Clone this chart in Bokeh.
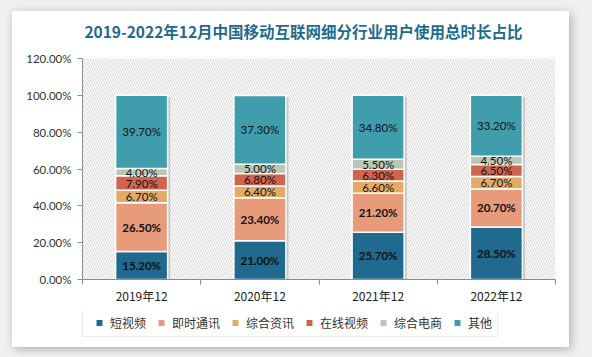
import numpy as np
from bokeh.plotting import figure
from bokeh.models import (ColumnDataSource, FixedTicker, PrintfTickFormatter, BoxAnnotation,
                          Legend, LegendItem, Range1d, Label)
from bokeh.layouts import column
from bokeh.core.properties import value
from bokeh.embed import file_html
from bokeh.resources import INLINE

# ---- data ----
title_text = "2019-2022年12月中国移动互联网细分行业用户使用总时长占比"
categories = ["2019年12", "2020年12", "2021年12", "2022年12"]
series_names = ["短视频", "即时通讯", "综合资讯", "在线视频", "综合电商", "其他"]
short_video = [15.2, 21.0, 25.7, 28.5]
instant_msg = [26.5, 23.4, 21.2, 20.7]
news = [6.7, 6.4, 6.6, 6.7]
online_video = [7.9, 6.8, 6.3, 6.5]
ecommerce = [4.0, 5.0, 5.5, 4.5]
others = [39.7, 37.3, 34.8, 33.2]
y_ticks = [0, 20, 40, 60, 80, 100, 120]

series = [short_video, instant_msg, news, online_video, ecommerce, others]
colors = ["#1F6A8E", "#E89B7B", "#E4AB68", "#D0644F", "#BAC7B5", "#3F9DAC"]
bold = [True, True, False, False, False, False]

x_pos = [i + 0.5 for i in range(len(categories))]
bar_w = 0.44
W = 557
BL, BR = 70, 14          # left / right borders shared by all stacked figures
FW = W - BL - BR         # frame width


def strip(h):
    f = figure(width=W, height=h, x_range=Range1d(0, FW), y_range=Range1d(0, h),
               output_backend="svg", toolbar_location=None,
               x_axis_location=None, y_axis_location=None,
               min_border_left=BL, min_border_right=BR, min_border_top=0, min_border_bottom=0,
               background_fill_color="white", border_fill_color="white")
    f.grid.visible = False
    f.outline_line_color = None
    return f


# title strip
tf = strip(36)
tf.add_layout(Label(x=221, y=17, text=title_text, text_align="center", text_baseline="middle",
                    text_font="Noto Sans CJK SC", text_font_size="15.5px",
                    text_font_style="bold", text_color="#1F6A8E"))

# main chart
p = figure(width=W, height=264, x_range=Range1d(0, len(categories)), y_range=Range1d(0, 120),
           output_backend="svg", toolbar_location=None,
           min_border_left=BL, min_border_right=BR, min_border_top=11, min_border_bottom=32,
           background_fill_color="white", border_fill_color="white")
p.outline_line_color = None
p.grid.visible = False

# hatched plot background
p.add_layout(BoxAnnotation(level="underlay", fill_alpha=0, line_alpha=0,
                           hatch_pattern="\\", hatch_color="#C9C9C9", hatch_weight=0.8,
                           hatch_scale=5, hatch_alpha=1.0))

# bar shadows
totals = np.sum(np.array(series), axis=0)
shadow_src = ColumnDataSource(dict(x=[x + 0.022 for x in x_pos], top=list(totals - 0.9)))
p.vbar(x="x", top="top", bottom=0, width=bar_w, source=shadow_src,
       fill_color="#7F7F7F", fill_alpha=0.35, line_color=None)

# legend strip
lf = strip(36)

bottom = np.zeros(len(categories))
legend_items = []
for name, vals, col, b in zip(series_names, series, colors, bold):
    vals = np.array(vals, dtype=float)
    top = bottom + vals
    src = ColumnDataSource(dict(x=x_pos, bottom=list(bottom), top=list(top),
                                mid=list((bottom + top) / 2),
                                lab=["%.2f%%" % v for v in vals]))
    p.vbar(x="x", bottom="bottom", top="top", width=bar_w, source=src,
           fill_color=col, line_color="white", line_width=1.5)
    p.text(x="x", y="mid", text="lab", source=src, text_align="center", text_baseline="middle",
           text_font=value("Lato"), text_font_size="11.5px",
           text_font_style="bold" if b else "normal", text_color="#111111")
    dummy = lf.scatter(x=[-100], y=[-100], marker="square", size=6, fill_color=col, line_color=None)
    legend_items.append(LegendItem(label=name, renderers=[dummy]))
    bottom = top

# axes
yax = p.yaxis[0]
yax.ticker = FixedTicker(ticks=y_ticks)
yax.formatter = PrintfTickFormatter(format="%.2f%%")
yax.axis_line_color = "#8C8C8C"
yax.major_tick_line_color = "#8C8C8C"
yax.major_tick_out = 5
yax.major_tick_in = 0
yax.minor_tick_line_color = None
yax.major_label_text_font = "Lato"
yax.major_label_text_font_size = "11.5px"
yax.major_label_text_color = "#333333"
yax.major_label_standoff = 6

xax = p.xaxis[0]
xax.ticker = FixedTicker(ticks=x_pos, minor_ticks=list(range(len(categories) + 1)))
xax.major_label_overrides = {x: c for x, c in zip(x_pos, categories)}
xax.axis_line_color = "#8C8C8C"
xax.major_tick_out = 0
xax.major_tick_in = 0
xax.minor_tick_line_color = "#8C8C8C"
xax.minor_tick_out = 5
xax.minor_tick_in = 0
xax.major_label_text_font = "Noto Sans CJK SC"
xax.major_label_text_font_size = "12px"
xax.major_label_text_color = "#222222"
xax.major_label_standoff = 2

legend = Legend(items=legend_items, orientation="horizontal", location=(0, 10),
                glyph_width=22, glyph_height=15, label_standoff=0, spacing=4, padding=5,
                label_height=12, label_text_font="Noto Sans CJK SC", label_text_font_size="12px",
                label_text_color="#333333", border_line_color="#D9D9D9", border_line_width=1,
                background_fill_color="white", background_fill_alpha=1.0, margin=0)
lf.add_layout(legend)

card = column(tf, p, lf, width=W, height=336, spacing=0, margin=(11, 0, 0, 12),
              styles={"background-color": "white", "box-shadow": "2px 2px 9px rgba(0,0,0,0.28)"})
page = column(card, width=592, height=357,
              styles={"background-color": "#F0F0F0"})
open("out.html", "w").write(file_html(page, INLINE))
